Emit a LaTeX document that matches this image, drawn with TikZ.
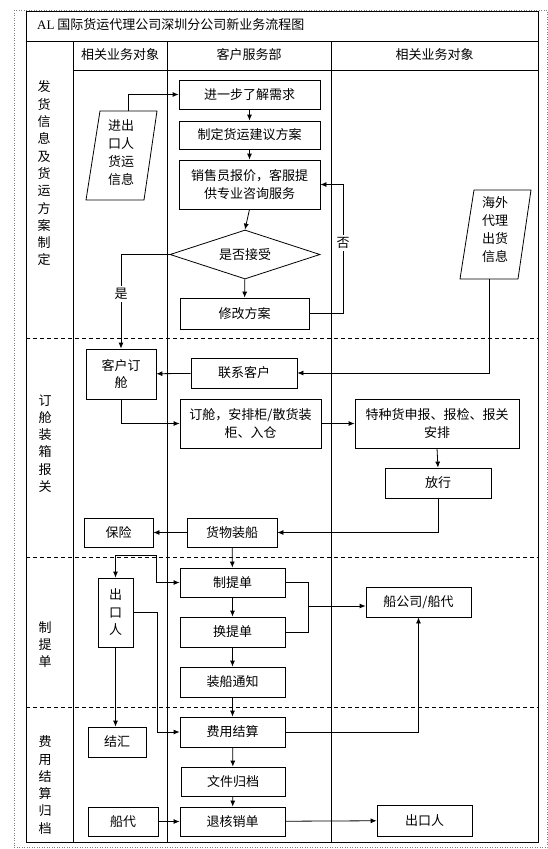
\documentclass[tikz,border=0pt]{standalone}
\usepackage{fontspec}
\setmainfont{Noto Sans CJK SC}
\newfontfamily\latinserif{Liberation Serif}
\usetikzlibrary{arrows.meta,shapes.geometric}
\newcommand\fsz{\fontsize{13}{17.5}\selectfont}
\tikzset{
  ln/.style={line width=0.8pt},
  box/.style={draw, line width=0.8pt, inner sep=0pt, align=center, font=\fsz},
  txt/.style={inner sep=0pt, align=center, font=\fsz},
  arr/.style={line width=0.8pt, -{Latex[length=6pt,width=5pt]}},
  phase/.style={inner sep=0pt, align=center, font=\fontsize{13}{17.3}\selectfont},
  divider/.style={line width=0.7pt, dash pattern=on 4pt off 3pt},
  lbl/.style={fill=white, inner sep=2pt, font=\fsz},
}
\begin{document}
\begin{tikzpicture}[x=1pt, y=-1pt]
\useasboundingbox (0,0) rectangle (548,849);
% outer dotted border
\draw[gray, dotted, line width=0.5pt] (14,10) rectangle (547,847);
% frame and lanes
\draw[ln] (26,11) rectangle (538,842);
\draw[ln] (26,41) -- (538,41);
\draw[ln] (73,70) -- (538,70);
\draw[ln] (73,41) -- (73,842);
\draw[ln] (167,41) -- (167,842);
\draw[ln] (331,41) -- (331,842);
\draw[divider] (26,338) -- (538,338);
\draw[divider] (26,557) -- (538,557);
\draw[divider] (26,707) -- (538,707);
% title and headers
\node[txt, anchor=west] (title) at (37,25) {{\latinserif AL} 国际货运代理公司深圳分公司新业务流程图};
\node[txt] (h1) at (120,55) {相关业务对象};
\node[txt] (h2) at (249,55) {客户服务部};
\node[txt] (h3) at (434.5,55) {相关业务对象};
% phase labels
\node[phase] (ph1) at (44,173.5) {发\\货\\信\\息\\及\\货\\运\\方\\案\\制\\定};
\node[phase] (ph2) at (45,443.5) {订\\舱\\装\\箱\\报\\关};
\node[phase] (ph3) at (45,644.5) {制\\提\\单};
\node[phase] (ph4) at (45,785) {费\\用\\结\\算\\归\\档};
% parallelograms
\draw[ln] (100,111) -- (157,111) -- (144,200) -- (86,200) -- cycle;
\node[txt, font=\fontsize{13}{18}\selectfont] (p1) at (121,153) {进出\\口人\\货运\\信息};
\coordinate (p1t) at (128,111);
\draw[ln] (474,190) -- (531,190) -- (518,279) -- (460,279) -- cycle;
\node[txt, font=\fontsize{13}{18}\selectfont] (p2) at (495,230) {海外\\代理\\出货\\信息};
\coordinate (p2b) at (489,279);
% boxes
\node[box, minimum width=141pt, minimum height=29pt] (n1) at (249.5,94.5) {进一步了解需求};
\node[box, minimum width=141pt, minimum height=28pt] (n2) at (249.5,135) {制定货运建议方案};
\node[box, minimum width=141pt, minimum height=49pt] (n3) at (249.5,184.5) {销售员报价，客服提\\供专业咨询服务};
\node[draw, ln, diamond, aspect=3, inner sep=0pt, minimum width=150pt, minimum height=49pt, font=\fsz] (d) at (245,254.5) {是否接受};
\node[box, minimum width=129pt, minimum height=31pt] (n4) at (244.5,313.5) {修改方案};
\node[box, minimum width=70pt, minimum height=50pt] (n5) at (121,374) {客户订\\舱};
\node[box, minimum width=106pt, minimum height=30pt] (n6) at (244,373) {联系客户};
\node[box, minimum width=141pt, minimum height=49pt] (n7) at (250.5,423.5) {订舱，安排柜/散货装\\柜、入仓};
\node[box, minimum width=164pt, minimum height=49pt] (n8) at (437,423.5) {特种货申报、报检、报关\\安排};
\node[box, minimum width=106pt, minimum height=30pt] (n9) at (438,483) {放行};
\node[box, minimum width=90pt, minimum height=29pt] (n10) at (232,532.5) {货物装船};
\node[box, minimum width=69pt, minimum height=29pt] (n11) at (118.5,532.5) {保险};
\node[box, minimum width=105pt, minimum height=29pt] (n12) at (232.5,582.5) {制提单};
\node[box, minimum width=105pt, minimum height=30pt] (n13) at (232.5,632) {换提单};
\node[box, minimum width=105pt, minimum height=30pt] (n14) at (232.5,682) {装船通知};
\node[box, minimum width=105pt, minimum height=30pt] (n15) at (232.5,732) {费用结算};
\node[box, minimum width=104pt, minimum height=29pt] (n16) at (233,781.5) {文件归档};
\node[box, minimum width=105pt, minimum height=29pt] (n17) at (232.5,821.5) {退核销单};
\node[box, minimum width=35pt, minimum height=69pt] (n18) at (115.5,612.5) {出\\口\\人};
\node[box, minimum width=105pt, minimum height=30pt] (n19) at (418.5,602) {船公司/船代};
\node[box, minimum width=58pt, minimum height=30pt] (n20) at (117,742) {结汇};
\node[box, minimum width=70pt, minimum height=29pt] (n21) at (123,821.5) {船代};
\node[box, minimum width=95pt, minimum height=31pt] (n22) at (424.5,820.5) {出口人};
% connectors, phase 1
\draw[arr] (p1t) |- (n1.west);
\draw[arr] (n1) -- (n2);
\draw[arr] (n2) -- (n3);
\draw[arr] (n3.south) -- (d.north);
\draw[arr] (d) -- (n4);
\coordinate (no) at (343,313.5);
\draw[arr] (n4.east) -- (no) |- (n3.east);
\node[lbl] (lno) at (343,243) {否};
\coordinate (yes) at (121,254.5);
\draw[arr] (d.west) -- (yes) -- (n5.north);
\node[lbl] (lyes) at (121,294) {是};
% phase 2
\draw[arr] (p2b) |- (n6.east);
\draw[arr] (n6) -- (n5);
\draw[arr] (n5.south) |- (n7.west);
\draw[arr] (n7) -- (n8);
\draw[arr] (n8.south) -- (n9.north);
\draw[arr] (n9.south) |- (n10.east);
\draw[arr] (n10) -- (n11);
% phase 3
\draw[arr] (n10) -- (n12);
\coordinate (c1) at (156,555);
\draw[line width=0.8pt, {Latex[length=6pt,width=5pt]}-{Latex[length=6pt,width=5pt]}] (n18.north) |- (c1) |- (n12.west);
\coordinate (c2) at (157,612.5);
\draw[arr] (n18.east) -- (c2) |- (n15.west);
\draw[arr] (n18.south) -- (n18.south |- n20.north);
\draw[arr] (n12) -- (n13);
\draw[arr] (n13) -- (n14);
\coordinate (j1) at (308,606);
\draw[ln] (n12.east) -| (j1);
\draw[ln] (n13.east) -| (j1);
\draw[arr] (j1) -- (j1 -| n19.west);
% phase 4
\draw[arr] (n14) -- (n15);
\draw[arr] (n15) -- (n16);
\draw[arr] (n16) -- (n17);
\draw[arr] (n15.east) -| (n19.south);
\draw[arr] (n21) -- (n17);
\draw[arr] (n17) -- (n22);
\end{tikzpicture}
\end{document}
